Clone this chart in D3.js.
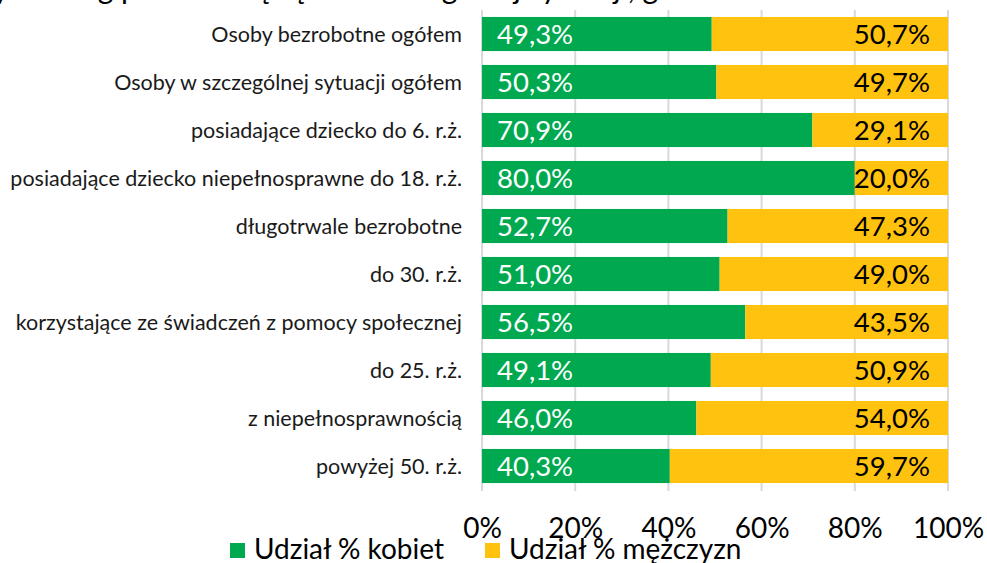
<!DOCTYPE html>
<html>
<head>
<meta charset="utf-8">
<script src="https://cdn.jsdelivr.net/npm/d3@7"></script>
<style>
  body { margin: 0; background: #fff; overflow: hidden; }
  svg { display: block; font-family: Lato, "Open Sans", sans-serif; }
</style>
</head>
<body>
<div class="chart"></div>
<script>
// categories and values
const categories = [
  "Osoby bezrobotne ogółem",
  "Osoby w szczególnej sytuacji ogółem",
  "posiadające dziecko do 6. r.ż.",
  "posiadające dziecko niepełnosprawne do 18. r.ż.",
  "długotrwale bezrobotne",
  "do 30. r.ż.",
  "korzystające ze świadczeń z pomocy społecznej",
  "do 25. r.ż.",
  "z niepełnosprawnością",
  "powyżej 50. r.ż."
];
const kobiety = [49.3, 50.3, 70.9, 80.0, 52.7, 51.0, 56.5, 49.1, 46.0, 40.3];
const mezczyzni = [50.7, 49.7, 29.1, 20.0, 47.3, 49.0, 43.5, 50.9, 54.0, 59.7];
const ticks = [0, 20, 40, 60, 80, 100];
const seriesNames = ["Udział % kobiet", "Udział % mężczyzn"];

const width = 987, height = 563;
const green = "#00a94f", yellow = "#ffc20e";

const svg = d3.select(".chart").append("svg")
  .attr("width", width)
  .attr("height", height);

// title is cut off by the top edge in the original, only descenders show
svg.append("text")
  .attr("x", -6)
  .attr("y", -1)
  .attr("font-size", 30)
  .attr("fill", "#000")
  .text("y według płci oraz będące w szczególnej sytuacji, grudzień");

const x = d3.scaleLinear().domain([0, 100]).range([482, 948]);
const y = d3.scaleBand().domain(categories).range([10, 490]).paddingInner(0.29).paddingOuter(0.145);

const fmt = v => d3.format(".1f")(v).replace(".", ",") + "%";

// gridlines
svg.append("g").selectAll("line")
  .data(ticks)
  .join("line")
  .attr("x1", d => x(d)).attr("x2", d => x(d))
  .attr("y1", 10).attr("y2", 491)
  .attr("stroke", "#d9d9d9")
  .attr("stroke-width", 2);

const rows = svg.append("g").selectAll("g")
  .data(categories)
  .join("g");

rows.append("rect")
  .attr("x", x(0))
  .attr("y", d => y(d))
  .attr("width", (d, i) => x(kobiety[i]) - x(0))
  .attr("height", y.bandwidth())
  .attr("fill", green);

rows.append("rect")
  .attr("x", (d, i) => x(kobiety[i]))
  .attr("y", d => y(d))
  .attr("width", (d, i) => x(100) - x(kobiety[i]))
  .attr("height", y.bandwidth())
  .attr("fill", yellow);

rows.append("text")
  .attr("x", x(0) - 20)
  .attr("y", d => y(d) + y.bandwidth() / 2)
  .attr("dy", "0.35em")
  .attr("text-anchor", "end")
  .attr("font-size", 21.5)
  .attr("fill", "#1a1a1a")
  .text(d => d);

rows.append("text")
  .attr("x", x(0) + 15)
  .attr("y", d => y(d) + y.bandwidth() / 2)
  .attr("dy", "0.36em")
  .attr("font-size", 27.5)
  .attr("fill", "#fff")
  .text((d, i) => fmt(kobiety[i]));

rows.append("text")
  .attr("x", x(100) - 18)
  .attr("y", d => y(d) + y.bandwidth() / 2)
  .attr("dy", "0.36em")
  .attr("text-anchor", "end")
  .attr("font-size", 27.5)
  .attr("fill", "#000")
  .text((d, i) => fmt(mezczyzni[i]));

// x axis labels
const xAxis = svg.append("g")
  .attr("transform", "translate(0,537.5)")
  .call(d3.axisBottom(x).tickValues(ticks).tickFormat(d => d + "%").tickSize(0).tickPadding(0));
xAxis.select(".domain").remove();
xAxis.selectAll("text")
  .attr("font-family", "Lato, sans-serif")
  .attr("font-size", 28)
  .attr("fill", "#000")
  .attr("dy", "0");

// legend
const legendX = [230, 485];
const legend = svg.append("g").selectAll("g")
  .data(seriesNames)
  .join("g")
  .attr("transform", (d, i) => `translate(${legendX[i]},0)`);
legend.append("rect")
  .attr("x", 0).attr("y", 543)
  .attr("width", 15).attr("height", 15)
  .attr("fill", (d, i) => i === 0 ? green : yellow);
legend.append("text")
  .attr("x", 24).attr("y", 559)
  .attr("font-size", 28)
  .attr("fill", "#000")
  .text(d => d);
</script>
</body>
</html>
